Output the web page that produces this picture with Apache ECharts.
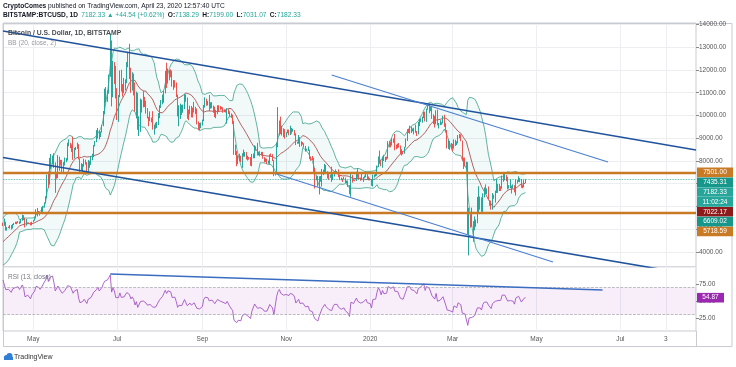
<!DOCTYPE html>
<html><head><meta charset="utf-8">
<script src="https://cdn.jsdelivr.net/npm/echarts@6/dist/echarts.min.js"></script>
<style>html,body{margin:0;padding:0;background:#fff}#c{width:736px;height:367px}</style>
</head><body><div id="c"></div>
<script>
// ---------- DATA ----------
const dataStart = '2019-03-01';
const viewStart = '2019-04-09';
const viewEnd = '2020-08-25';
const firstOpen = 3812;
const closes = [
/*2019-03*/ 3820,3815,3790,3700,3855,3860,3875,3860,3940,3920, 3870,3880,3870,3870,3920,4010,3980,3975,4010,4035, 3985,3995,4000,3995,3925,3940,4070,4060,4140,4115,4110,
/*2019-04*/ 4145,4900,4975,4910,5040,5060,5200,5280,5180,5310, 5040,5080,5070,5150,5030,5210,5240,5290,5280,5340, 5280,5380,5520,5440,5210,5260,5280,5270,5180,5320,
/*2019-05*/ 5370,5480,5730,5800,5750,5700,5780,5960,6160,6370, 7240,6990,7800,7980,8200,7880,7350,7260,8190,7970, 7960,7640,7880,7990,8060,8740,8790,8720,8660,8280, 8560,
/*2019-06*/ 8560,8730,8100,7680,7790,7800,7990,7920,7640,8010, 7920,8150,8230,8690,8850,8980,9320,9080,9270,9530, 10160,10700,10850,11020,11750,12930,11160,12400,11900,10800,
/*2019-07*/ 10580,10800,11950,11150,10970,11250,11470,12300,12570,12100, 11350,11800,11380,10200,10850,9430,9680,10640,10530,10760, 10590,10330,9900,9850,9990,9860,9500,9530,9500,9590, 10090,
/*2019-08*/ 10400,10530,10820,10980,11800,11470,11950,11960,11850,11290, 11530,11380,10880,10050,10300,10350,10230,10340,10900,10770, 10140,10120,10400,10150,10140,10370,10170,9720,9490,9580, 9600,
/*2019-09*/ 9760,10390,10620,10580,10580,10320,10490,10410,10340,10120, 10160,10420,10360,10310,10300,10240,10190,10160,10270,10180, 9980,10030,9700,8530,8440,8070,8190,8210,8050,8300,
/*2019-10*/ 8330,8390,8230,8160,8150,7870,8200,8190,8590,8580, 8260,8300,8290,8350,8160,8000,8080,7950,7950,8240, 8220,8030,7460,7430,8660,9250,9550,9250,9430,9170, 9150,
/*2019-11*/ 9250,9300,9200,9410,9310,9340,9200,8770,8810,9040, 8720,8800,8760,8630,8470,8500,8500,8170,8120,8080, 7620,7280,7320,6900,7130,7160,7520,7430,7750,7550,
/*2019-12*/ 7420,7300,7300,7200,7400,7530,7500,7520,7340,7220, 7200,7190,7250,7070,7110,6880,6610,7280,7150,7190, 7140,7510,7320,7250,7200,7200,7250,7300,7390,7220, 7170,
/*2020-01*/ 7180,6950,7340,7350,7360,7760,8150,8050,7820,8190, 8020,8180,8110,8820,8810,8720,8900,8920,8700,8630, 8730,8660,8390,8430,8340,8600,8900,9380,9290,9500, 9350,
/*2020-02*/ 9380,9330,9290,9180,9620,9750,9800,9900,10150,9850, 10270,10350,10240,10360,9900,9920,9700,10180,9600,9610, 9690,9670,9960,9660,9310,8790,8810,8710,8550,
/*2020-03*/ 8540,8920,8760,8760,9070,9150,8900,8040,7940,7900, 7940,4860,5600,5170,5360,5030,5330,5400,6200,6200, 6190,5830,6480,6770,6690,6760,6380,6250,5880,6400, 6420,
/*2020-04*/ 6650,6810,6740,6870,6780,7340,7200,7370,7300,6870, 6890,6920,6850,6860,6640,7120,7100,7260,7140,6860, 6850,7138.29,7182.33
];
const highs = [
/*2019-03*/ 3860,3830,3830,3800,3870,3900,3910,3940,3960,3945, 3930,3900,3890,3920,3930,4050,4010,4020,4020,4060, 4060,4010,4010,4005,4000,3950,4080,4075,4165,4150,4120,
/*2019-04*/ 4170,5080,5340,5060,5060,5230,5260,5350,5290,5470, 5330,5100,5120,5180,5180,5230,5280,5330,5330,5360, 5350,5450,5640,5620,5500,5450,5300,5300,5300,5330,
/*2019-05*/ 5400,5530,5880,5930,5800,5760,5970,6030,6180,6450, 7400,7540,8140,8310,8240,8340,7940,7460,8260,8190, 8050,8050,7950,8150,8130,8800,8950,8800,8730,9070, 8580,
/*2019-06*/ 8620,8810,8740,8120,7900,7870,8100,8060,7950,8040, 8010,8220,8320,8700,8880,9360,9450,9330,9300,9590, 10200,11180,11250,11100,11800,13600,13300,12400,12350,12180,
/*2019-07*/ 11200,10900,11980,12010,11380,11650,11590,12350,12800,13150, 12100,11900,11840,11450,11050,11000,9960,10740,10700,11070, 10820,10650,10330,9940,10180,9910,10190,9600,9690,9720, 10110,
/*2019-08*/ 10450,10680,10920,11090,11960,12320,12070,12000,12030,11970, 11560,11550,11450,10920,10450,10520,10470,10480,10950,10930, 10790,10260,10430,10420,10350,10600,10380,10310,9740,9670, 9690,
/*2019-09*/ 9820,10460,10800,10740,10640,10900,10580,10590,10440,10390, 10250,10450,10450,10420,10380,10360,10270,10260,10320,10280, 10190,10090,10040,9760,8720,8440,8250,8320,8230,8340,
/*2019-10*/ 8500,8400,8400,8230,8180,8170,8310,8330,8690,8650, 8800,8410,8430,8400,8400,8170,8120,8100,8020,8290, 8330,8300,8040,7490,8800,10370,9780,9950,9550,9440, 9400,
/*2019-11*/ 9270,9380,9380,9550,9450,9420,9360,9220,8850,9140, 9050,8870,8830,8780,8660,8540,8640,8500,8190,8220, 8140,7700,7360,7340,7330,7340,7650,7620,7870,7830,
/*2019-12*/ 7550,7430,7400,7750,7490,7550,7630,7560,7630,7390, 7270,7230,7300,7270,7140,7140,6940,7430,7380,7200, 7180,7530,7690,7420,7270,7440,7290,7360,7520,7420, 7320,
/*2020-01*/ 7250,7200,7400,7400,7490,7800,8200,8460,8060,8200, 8270,8190,8190,8870,8890,8840,9000,8990,9190,8720, 8760,8790,8680,8520,8440,8620,8990,9400,9420,9550, 9520,
/*2020-02*/ 9430,9460,9600,9320,9720,9850,9880,9950,10160,10170, 10300,10480,10520,10390,10380,10050,9980,10230,10260,9670, 9790,9700,9990,10030,9660,9360,8950,8880,8790,
/*2020-03*/ 8750,8950,8930,8860,9140,9190,9170,8900,8150,8150, 7970,7950,5950,5650,5950,5360,5560,5430,6420,6890, 6440,6400,6580,6840,6970,6790,6880,6280,6260,6590, 6520,
/*2020-04*/ 6700,7200,7000,6990,6890,7360,7460,7420,7380,7300, 6940,7200,6920,6970,6940,7180,7160,7330,7250,7210, 6940,7160,7199.00
];
const lows = [
/*2019-03*/ 3800,3780,3770,3680,3695,3830,3850,3820,3855,3890, 3855,3830,3850,3830,3860,3915,3960,3950,3960,3990, 3950,3975,3985,3975,3900,3910,3935,4030,4055,4080,4090,
/*2019-04*/ 4095,4140,4860,4800,4900,4970,5060,5170,5140,5150, 4940,4940,5050,5030,4990,5030,5180,5230,5220,5270, 5230,5260,5370,5400,5080,5160,5240,5230,5170,5170,
/*2019-05*/ 5310,5370,5470,5560,5700,5600,5700,5760,5950,6130, 6360,6810,6960,7640,7850,7700,6600,7220,7250,7570, 7800,7510,7500,7800,7950,8020,8650,8560,8400,8050, 8110,
/*2019-06*/ 8480,8530,8070,7490,7600,7470,7750,7840,7550,7510, 7700,7830,8030,8170,8640,8830,8980,8950,9050,9250, 9530,10060,10570,10600,10960,11700,10400,10800,11380,10750,
/*2019-07*/ 9800,9720,10800,11050,10830,10980,11100,11420,12120,11600, 11000,11100,10880,10170,9880,9370,9100,9280,10130,10360, 10370,10080,9870,9530,9750,9700,9380,9160,9410,9450, 9580,
/*2019-08*/ 9880,10330,10490,10560,10970,11210,11400,11550,11680,11270, 11130,11230,10810,9960,9530,9850,10020,10120,10280,10600, 9850,9790,10050,9920,9910,10130,10060,9610,9360,9350, 9440,
/*2019-09*/ 9560,9750,10350,10430,10440,10180,10300,10320,10120,9930, 9880,10060,10170,10250,10280,10120,10150,10130,9640,10070, 9950,9900,9630,8270,8260,7770,7860,8010,7940,7700,
/*2019-10*/ 8190,8190,8070,8020,8060,7790,7770,8120,8120,8450, 8240,8250,8200,8260,8100,7940,7960,7870,7880,7870, 8180,8000,7330,7360,7420,8600,9120,9180,9120,9050, 8980,
/*2019-11*/ 9050,9220,9130,9140,9200,9290,9120,8700,8760,8760, 8620,8650,8720,8590,8410,8450,8440,8080,8010,8030, 7520,6790,7150,6880,6530,7090,6880,7380,7420,7470,
/*2019-12*/ 7230,7170,7260,7080,7160,7320,7490,7450,7290,7160, 7150,7080,7180,7030,7010,6860,6540,6430,7050,7130, 7110,7120,7260,7180,7130,7160,7080,7240,7280,7190, 7150,
/*2020-01*/ 7150,6910,6880,7270,7320,7350,7730,7880,7770,7700, 8000,7960,8050,8100,8600,8600,8680,8800,8470,8520, 8560,8590,8300,8240,8290,8320,8590,8880,9230,9200, 9230,
/*2020-02*/ 9300,9170,9240,9100,9170,9530,9720,9680,9880,9740, 9720,10250,10100,10190,9850,9620,9470,9620,9570,9430, 9580,9590,9650,9500,9280,8550,8530,8480,8540,
/*2020-03*/ 8420,8540,8660,8700,8770,9000,8870,8010,7650,7760, 7600,4780,3850,5070,5110,4450,4950,5110,5260,5700, 5860,5770,5700,6400,6550,6550,6300,6030,5860,5860, 6340,
/*2020-04*/ 6170,6590,6600,6680,6680,6780,7080,7150,7110,6750, 6790,6810,6570,6790,6620,6480,7010,7080,7070,6820, 6800,6840,7031.07
];
// time axis ticks
const tickDates  = ['2019-05-01','2019-07-01','2019-09-01','2019-11-01','2020-01-01','2020-03-01','2020-05-01','2020-07-01','2020-08-03'];
const tickLabels = ['May','Jul','Sep','Nov','2020','Mar','May','Jul','3'];
// drawn lines (date, price)
const upperChannel = [['2019-04-09', 13714], ['2020-08-25', 8484]];
const lowerChannel = [['2019-04-09', 8154], ['2020-08-25', 2976]];
const upperFan = [['2019-12-04', 11780], ['2020-06-22', 7956]];
const lowerFan = [['2019-10-25', 7429], ['2020-05-13', 3560]];
const rsiTrend = [['2019-06-26', 89.7], ['2020-06-18', 66.2]];
const hLevels = [7501, 5718.59];
const lastClose = 7182.33;
// price-scale tags
const tagTexts = ['7501.00','7435.31','7182.33','11:02:24','7022.17','6609.02','5718.59'];
const tagColors = ['#c97a24','#17978a','#26a69a','#26a69a','#8e1b1b','#17978a','#c97a24'];
const rsiLast = 54.87;
const headerLine1 = ['CryptoComes', ' published on TradingView.com, April 23, 2020 12:57:40 UTC'];
const headerLine2 = ['BITSTAMP:BTCUSD, 1D', '7182.33 \u25B2 +44.54 (+0.62%)', '7138.29', '7199.00', '7031.07', '7182.33'];

// ---------- BUILD ----------
function days(start, n){const o=[];const t=Date.parse(start+'T00:00:00Z');for(let i=0;i<n;i++)o.push(new Date(t+i*86400000).toISOString().slice(0,10));return o;}
const nCats = Math.round((Date.parse(viewEnd)-Date.parse(viewStart))/86400000)+1;
const cats = days(viewStart, nCats);
const off = Math.round((Date.parse(viewStart)-Date.parse(dataStart))/86400000);

const candles = [];
for (let i=off;i<closes.length;i++){
  const o = i===0?firstOpen:closes[i-1];
  candles.push([o, closes[i], lows[i], highs[i]]);
}
const up=[],lo=[],mid=[],diff=[];
for (let i=off;i<closes.length;i++){
  let s=0; for(let k=i-19;k<=i;k++) s+=closes[k];
  const m=s/20; let v=0; for(let k=i-19;k<=i;k++) v+=(closes[k]-m)**2;
  const sd=Math.sqrt(v/20);
  mid.push(m); up.push(m+2*sd); lo.push(m-2*sd); diff.push(4*sd);
}
function rsiCalc(c,n){const out=new Array(c.length).fill(null);let g=0,l=0;for(let i=1;i<=n;i++){const d=c[i]-c[i-1];if(d>0)g+=d;else l-=d;}g/=n;l/=n;out[n]=100-100/(1+g/l);for(let i=n+1;i<c.length;i++){const d=c[i]-c[i-1];g=(g*(n-1)+Math.max(d,0))/n;l=(l*(n-1)+Math.max(-d,0))/n;out[i]=l===0?100:100-100/(1+g/l);}return out;}
const rsi = rsiCalc(closes,13).slice(off);

const FONT = "'Liberation Sans', Arial, sans-serif";
const GRID = '#eceef2';
const chart = echarts.init(document.getElementById('c'), null, {renderer:'canvas'});
const isTick = (idx, val) => tickDates.indexOf(val) >= 0;

const option = {
  animation:false,
  backgroundColor:'#fff',
  grid:[
    {left:3, top:23, width:693, height:244, show:true, borderColor:'#c8cbd1', borderWidth:1},
    {left:3, top:267, width:693, height:64, show:true, borderColor:'#c8cbd1', borderWidth:1}
  ],
  xAxis:[
    {gridIndex:0, type:'category', data:cats, boundaryGap:false, axisLine:{show:false}, axisTick:{show:false}, axisLabel:{show:false},
     splitLine:{show:true, interval:isTick, lineStyle:{color:GRID, width:1}}},
    {gridIndex:1, type:'category', data:cats, boundaryGap:false, axisLine:{show:false}, axisTick:{show:false},
     axisLabel:{show:true, interval:isTick, formatter:(v)=>tickLabels[tickDates.indexOf(v)], color:'#555', fontSize:6.5, fontFamily:FONT, margin:5},
     splitLine:{show:true, interval:isTick, lineStyle:{color:GRID, width:1}}}
  ],
  yAxis:[
    {gridIndex:0, type:'value', position:'right', min:3340, max:14066, splitNumber:10, minInterval:1000, maxInterval:1000, scale:true,
     axisLine:{show:false}, axisTick:{show:true, length:3, lineStyle:{color:'#888'}},
     axisLabel:{formatter:(v)=>v.toFixed(2), color:'#555', fontSize:6.5, fontFamily:FONT, margin:3, showMinLabel:false, showMaxLabel:false},
     splitLine:{show:true, lineStyle:{color:GRID, width:1}}},
    {gridIndex:1, type:'value', position:'right', min:5.9, max:100, minInterval:25, maxInterval:25,
     axisLine:{show:false}, axisTick:{show:true, length:3, lineStyle:{color:'#888'}},
     axisLabel:{formatter:(v)=> (v===25||v===50||v===75)? v.toFixed(2):'', color:'#555', fontSize:6.5, fontFamily:FONT, margin:3, showMinLabel:false, showMaxLabel:false},
     splitLine:{show:false}}
  ],
  series:[
    {name:'bbLow', type:'line', data:lo, stack:'bb', symbol:'none', lineStyle:{color:'#3a9f88', width:0.8}, z:2, silent:true},
    {name:'bbFill', type:'line', data:diff, stack:'bb', symbol:'none', lineStyle:{width:0, opacity:0}, areaStyle:{color:'rgba(38,166,154,0.09)'}, z:1, silent:true},
    {name:'bbUp', type:'line', data:up, symbol:'none', lineStyle:{color:'#3a9f88', width:0.8}, z:2, silent:true},
    {name:'bbMid', type:'line', data:mid, symbol:'none', lineStyle:{color:'#a23c3c', width:0.8}, z:2, silent:true},
    {name:'price', type:'candlestick', data:candles, z:3, silent:true,
     itemStyle:{color:'#26a69a', color0:'#ef5350', borderColor:'#26a69a', borderColor0:'#ef5350', borderWidth:1},
     markLine:{symbol:'none', silent:true, label:{show:false}, animation:false,
       data:[
         {yAxis:hLevels[0], lineStyle:{color:'#c97a24', width:2.4, type:'solid'}},
         {yAxis:hLevels[1], lineStyle:{color:'#c97a24', width:2.4, type:'solid'}},
         {yAxis:lastClose, lineStyle:{color:'#26a69a', width:0.8, type:'dotted'}}
       ]}},
    {type:'line', data:upperChannel, symbol:'none', lineStyle:{color:'#21539c', width:1.6}, z:5, silent:true},
    {type:'line', data:lowerChannel, symbol:'none', lineStyle:{color:'#21539c', width:1.6}, z:5, silent:true},
    {type:'line', data:upperFan, symbol:'none', lineStyle:{color:'#4a7fd0', width:1.1}, z:5, silent:true},
    {type:'line', data:lowerFan, symbol:'none', lineStyle:{color:'#4a7fd0', width:1.1}, z:5, silent:true},
    {type:'line', xAxisIndex:1, yAxisIndex:1, data:rsi, symbol:'none', lineStyle:{color:'#a455c4', width:0.9}, z:3, silent:true,
     markArea:{silent:true, itemStyle:{color:'rgba(156,39,176,0.08)'}, data:[[{yAxis:30},{yAxis:70}]]},
     markLine:{symbol:'none', silent:true, label:{show:false}, lineStyle:{color:'#a0a3ab', type:'dashed', width:0.7},
       data:[{yAxis:70},{yAxis:30}]}},
    {type:'line', xAxisIndex:1, yAxisIndex:1, data:rsiTrend, symbol:'none', lineStyle:{color:'#3a6dc0', width:1.3}, z:5, silent:true}
  ]
};
chart.setOption(option);

// ---------- texts, frame, tags ----------
const g = [];
g.push({type:'rect', shape:{x:3.5, y:23.5, width:728.5, height:323}, style:{fill:null, stroke:'#c8cbd1', lineWidth:1}, silent:true, z:0});
g.push({type:'line', shape:{x1:696.5, y1:331, x2:696.5, y2:347}, style:{stroke:'#c8cbd1', lineWidth:1}, silent:true});
g.push({type:'text', x:3, y:6, style:{text:'{b|'+headerLine1[0]+'}{n|'+headerLine1[1]+'}', verticalAlign:'middle',
  rich:{b:{fontWeight:'bold', fontSize:6.6, fill:'#131722', fontFamily:FONT}, n:{fontSize:6.6, fill:'#131722', fontFamily:FONT}}}, silent:true});
g.push({type:'text', x:3, y:15.5, style:{text:'{b|'+headerLine2[0]+'} {g|'+headerLine2[1]+'} {b|O:}{g|'+headerLine2[2]+'} {b|H:}{g|'+headerLine2[3]+'} {b|L:}{g|'+headerLine2[4]+'} {b|C:}{g|'+headerLine2[5]+'}', verticalAlign:'middle',
  rich:{b:{fontWeight:'bold', fontSize:6.6, fill:'#131722', fontFamily:FONT}, g:{fontSize:6.6, fill:'#26a69a', fontFamily:FONT}}}, silent:true});
g.push({type:'text', x:8, y:33.5, style:{text:'Bitcoin / U.S. Dollar, 1D, BITSTAMP', fontSize:6.8, fontWeight:'bold', fill:'#4a4d55', fontFamily:FONT, verticalAlign:'middle'}, silent:true, z:10});
g.push({type:'text', x:8, y:43.5, style:{text:'BB (20, close, 2)', fontSize:6.5, fill:'#9598a1', fontFamily:FONT, verticalAlign:'middle'}, silent:true, z:10});
g.push({type:'text', x:8, y:277, style:{text:'RSI (13, close)', fontSize:6.5, fill:'#787b86', fontFamily:FONT, verticalAlign:'middle'}, silent:true, z:10});
// footer logo
g.push({type:'circle', shape:{cx:6.5, cy:357.5, r:2.6}, style:{fill:'#2f7fd6'}, silent:true});
g.push({type:'circle', shape:{cx:9.5, cy:356, r:3}, style:{fill:'#2f7fd6'}, silent:true});
g.push({type:'rect', shape:{x:4, y:357, width:9, height:3}, style:{fill:'#2f7fd6'}, silent:true});
g.push({type:'text', x:14, y:357.5, style:{text:'TradingView', fontSize:7, fill:'#333', fontFamily:FONT, verticalAlign:'middle'}, silent:true});
// price tags stacked from first level
const y0 = chart.convertToPixel({yAxisIndex:0}, hLevels[0]);
tagTexts.forEach((t,i)=>{
  const yc = y0 + i*9.85;
  g.push({type:'rect', shape:{x:697, y:yc-4.8, width:36, height:9.6}, style:{fill:tagColors[i]}, silent:true, z:20});
  g.push({type:'text', x:715, y:yc, style:{text:t, fontSize:6.5, fill:'#fff', fontFamily:FONT, align:'center', verticalAlign:'middle'}, silent:true, z:21});
});
const yr = chart.convertToPixel({yAxisIndex:1}, rsiLast);
g.push({type:'rect', shape:{x:697, y:yr-4.8, width:27, height:9.6}, style:{fill:'#9c27b0'}, silent:true, z:20});
g.push({type:'text', x:710.5, y:yr, style:{text:rsiLast.toFixed(2), fontSize:6.5, fill:'#fff', fontFamily:FONT, align:'center', verticalAlign:'middle'}, silent:true, z:21});
chart.setOption({graphic:g});
</script></body></html>
